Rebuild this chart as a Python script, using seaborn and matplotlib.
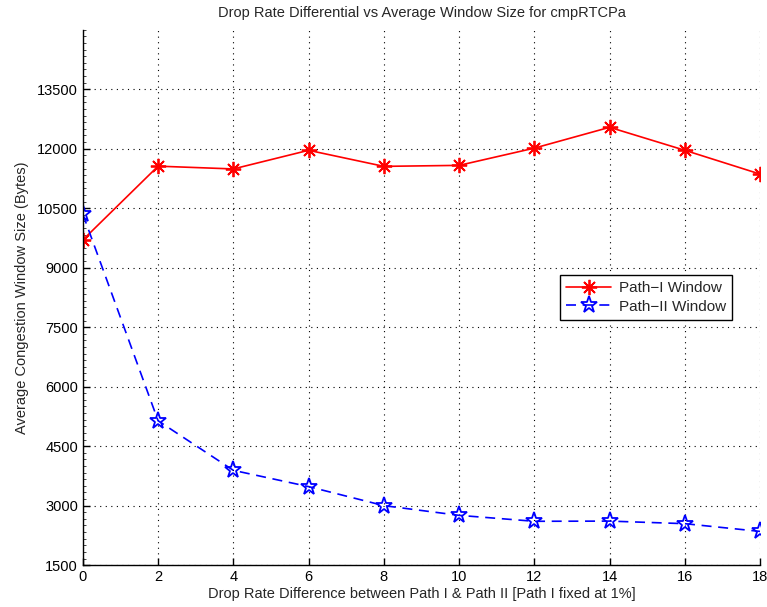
import matplotlib
matplotlib.use("Agg")
import matplotlib.pyplot as plt
from matplotlib.ticker import AutoMinorLocator
from matplotlib.lines import Line2D
import seaborn as sns
import pandas as pd

# Drop rate difference between the two paths (percentage points)
drop_diff = [0, 2, 4, 6, 8, 10, 12, 14, 16, 18]
# Average congestion window size (bytes)
path1_window = [9700, 11560, 11490, 11960, 11555, 11580, 12015, 12540, 11960, 11360]
path2_window = [10350, 5140, 3890, 3480, 3000, 2755, 2605, 2610, 2545, 2350]

series_names = ["Path\u2212I Window", "Path\u2212II Window"]
y_ticks = [1500, 3000, 4500, 6000, 7500, 9000, 10500, 12000, 13500]
x_ticks = [0, 2, 4, 6, 8, 10, 12, 14, 16, 18]

df1 = pd.DataFrame({"diff": drop_diff, "window": path1_window})
df2 = pd.DataFrame({"diff": drop_diff, "window": path2_window})

sns.set_style("white")
plt.rcParams["font.family"] = ["Liberation Sans", "DejaVu Sans"]
plt.rcParams["xtick.direction"] = "in"
plt.rcParams["ytick.direction"] = "in"

fig = plt.figure(figsize=(7.67, 6.07), dpi=100)
ax = fig.add_axes([0.108, 0.069, 0.883, 0.882])

red, blue = "#ff0000", "#0000ff"
asterisk = (8, 2, 0)

# Path I: solid red line with asterisk markers
sns.lineplot(data=df1, x="diff", y="window", ax=ax, color=red, linewidth=1.2,
             marker=asterisk, markersize=11, markeredgecolor=red, markeredgewidth=1.3)
# Path II: dashed blue line with hollow star markers
sns.lineplot(data=df2, x="diff", y="window", ax=ax, color=blue, linewidth=1.2,
             linestyle=(0, (6, 4)), marker="*", markersize=12.5,
             markerfacecolor="none", markeredgecolor=blue, markeredgewidth=1.3)

ax.set_xlim(0, 18)
ax.set_ylim(1500, 15000)
ax.set_xticks(x_ticks)
ax.set_yticks(y_ticks)
ax.yaxis.set_minor_locator(AutoMinorLocator(9))
ax.tick_params(axis="both", which="major", length=5, width=1, labelsize=10.5, colors="black",
               left=True, bottom=True)
ax.tick_params(axis="y", which="minor", length=2.5, width=0.6, left=True)

ax.grid(True, which="major", linestyle=(0, (1, 4)), color="black", linewidth=0.8)
for side in ["top", "right"]:
    ax.spines[side].set_visible(False)
for side in ["left", "bottom"]:
    ax.spines[side].set_color("black")
    ax.spines[side].set_linewidth(1.0)

ax.set_title("Drop Rate Differential vs Average Window Size for cmpRTCPa", fontsize=10.5, pad=9)
ax.set_xlabel("Drop Rate Difference between Path I & Path II [Path I fixed at 1%]", fontsize=10.5, labelpad=2)
ax.set_ylabel("Average Congestion Window Size (Bytes)", fontsize=10.5, labelpad=6)

handles = [
    Line2D([], [], color=red, linewidth=1.2, marker=asterisk, markersize=11,
           markeredgecolor=red, markeredgewidth=1.3),
    Line2D([], [], color=blue, linewidth=1.2, linestyle=(0, (6, 4)), marker="*",
           markersize=12.5, markerfacecolor="none", markeredgecolor=blue, markeredgewidth=1.3),
]
leg = ax.legend(handles, series_names, loc="upper right", bbox_to_anchor=(0.959, 0.542),
                borderaxespad=0, fontsize=11, frameon=True, fancybox=False, edgecolor="black",
                framealpha=1, borderpad=0.4, handlelength=3, handletextpad=0.5,
                labelspacing=0.3)
leg.get_frame().set_linewidth(1.0)

fig.savefig("out.png", dpi=100)
